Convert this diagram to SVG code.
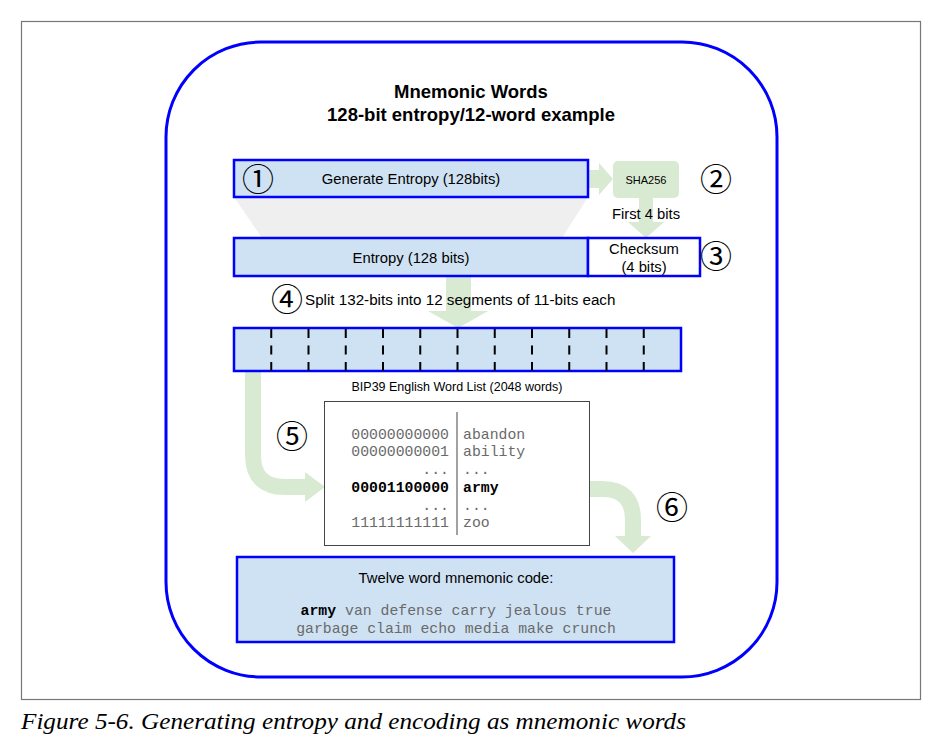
<svg xmlns="http://www.w3.org/2000/svg" width="945" height="745" viewBox="0 0 945 745">
<style>
.box{fill:#cfe2f3;stroke:#0000ff;stroke-width:2.5}
.sans{font-family:"Liberation Sans",Arial,sans-serif;fill:#000}
.mono{font-family:"Liberation Mono","Courier New",monospace;fill:#6a6a6a;font-size:14.8px}
.circ{font-family:"Noto Sans CJK JP","DejaVu Sans",sans-serif;font-size:32px;fill:#000;text-anchor:middle}
.arrow{fill:#d9ead3;stroke:none}
.arrowline{fill:none;stroke:#d9ead3;stroke-width:16}
.div{stroke:#000;stroke-width:2;stroke-dasharray:9 7.5}
</style>
<rect x="21.5" y="21.5" width="899" height="678" fill="#fff" stroke="#777" stroke-width="1.2"/>
<rect x="166" y="42" width="611" height="635" rx="95" ry="95" fill="#fff" stroke="#0000ff" stroke-width="3"/>
<g id="title">
<text class="sans" x="471" y="98" font-size="18.5" font-weight="bold" text-anchor="middle">Mnemonic Words</text>
<text class="sans" x="471" y="121" font-size="18.5" font-weight="bold" text-anchor="middle">128-bit entropy/12-word example</text>
</g>
<g id="connectors">
<polygon points="234,197 588,197 562,238 262,238" fill="#efefef"/>
<polygon class="arrow" points="588,170 599,170 599,163 613,179 599,195 599,188 588,188"/>
<polygon class="arrow" points="639,198 653,198 653,222 664,222 646,238 628,222 639,222"/>
<polygon class="arrow" points="446,276 471,276 471,311 488,311 458,328 428,311 446,311"/>
<path class="arrowline" d="M253,371 V455 Q253,487 285,487 H306"/>
<polygon class="arrow" points="305,472 325,487 305,502"/>
<path class="arrowline" d="M589,489 H602 Q633,489 633,520 V537"/>
<polygon class="arrow" points="615,536 651,536 633,553"/>
</g>
<g id="generate">
<rect class="box" x="234" y="160" width="354" height="37"/>
<text class="circ" x="258" y="191">①</text>
<text class="sans" x="411" y="184" font-size="14.8" text-anchor="middle">Generate Entropy (128bits)</text>
</g>
<g id="sha256">
<rect x="613" y="161" width="66" height="37" rx="5" fill="#d9ead3"/>
<text class="sans" x="646" y="184" font-size="11" text-anchor="middle">SHA256</text>
<text class="circ" x="716" y="191">②</text>
</g>
<text class="sans" x="646" y="219" font-size="14.8" text-anchor="middle">First 4 bits</text>
<g id="entropy">
<rect class="box" x="234" y="238" width="354" height="38"/>
<text class="sans" x="411" y="263" font-size="14.8" text-anchor="middle">Entropy (128 bits)</text>
</g>
<g id="checksum">
<rect x="588" y="238" width="112" height="38" fill="#fff" stroke="#0000ff" stroke-width="2.5"/>
<text class="sans" x="644" y="254" font-size="14.8" text-anchor="middle">Checksum</text>
<text class="sans" x="644" y="272" font-size="14.8" text-anchor="middle">(4 bits)</text>
<text class="circ" x="716" y="268">③</text>
</g>
<g id="split">
<text class="circ" x="287" y="311">④</text>
<text class="sans" x="305" y="305" font-size="15.2">Split 132-bits into 12 segments of 11-bits each</text>
</g>
<g id="segments">
<rect class="box" x="234" y="328" width="447" height="43"/>
<line class="div" x1="271.25" y1="329" x2="271.25" y2="371"/>
<line class="div" x1="308.5" y1="329" x2="308.5" y2="371"/>
<line class="div" x1="345.75" y1="329" x2="345.75" y2="371"/>
<line class="div" x1="383" y1="329" x2="383" y2="371"/>
<line class="div" x1="420.25" y1="329" x2="420.25" y2="371"/>
<line class="div" x1="457.5" y1="329" x2="457.5" y2="371"/>
<line class="div" x1="494.75" y1="329" x2="494.75" y2="371"/>
<line class="div" x1="532" y1="329" x2="532" y2="371"/>
<line class="div" x1="569.25" y1="329" x2="569.25" y2="371"/>
<line class="div" x1="606.5" y1="329" x2="606.5" y2="371"/>
<line class="div" x1="643.75" y1="329" x2="643.75" y2="371"/>
</g>
<text class="circ" x="292" y="448">⑤</text>
<g id="wordlist">
<text class="sans" x="457" y="391" font-size="12.5" text-anchor="middle">BIP39 English Word List (2048 words)</text>
<rect x="324.5" y="401.5" width="265" height="144" fill="#fff" stroke="#444" stroke-width="1"/>
<line x1="457" y1="412" x2="457" y2="535" stroke="#444" stroke-width="1"/>
<g class="mono" text-anchor="end">
<text x="449" y="439">00000000000</text>
<text x="449" y="456">00000000001</text>
<text x="449" y="474">...</text>
<text x="449" y="492" font-weight="bold" fill="#000">00001100000</text>
<text x="449" y="510">...</text>
<text x="449" y="527">11111111111</text>
</g>
<g class="mono">
<text x="463" y="439">abandon</text>
<text x="463" y="456">ability</text>
<text x="463" y="474">...</text>
<text x="463" y="492" font-weight="bold" fill="#000">army</text>
<text x="463" y="510">...</text>
<text x="463" y="527">zoo</text>
</g>
</g>
<text class="circ" x="672" y="519">⑥</text>
<g id="mnemonic">
<rect class="box" x="237" y="557" width="437" height="85"/>
<text class="sans" x="456" y="583" font-size="14.8" text-anchor="middle">Twelve word mnemonic code:</text>
<text class="mono" x="456" y="615" font-size="15" text-anchor="middle"><tspan font-weight="bold" fill="#000">army</tspan> van defense carry jealous true</text>
<text class="mono" x="456" y="633" font-size="15" text-anchor="middle">garbage claim echo media make crunch</text>
</g>
<text x="21" y="729" font-family="'Liberation Serif','Times New Roman',serif" font-style="italic" font-size="23" textLength="665" lengthAdjust="spacingAndGlyphs" fill="#000">Figure 5-6. Generating entropy and encoding as mnemonic words</text>
</svg>
